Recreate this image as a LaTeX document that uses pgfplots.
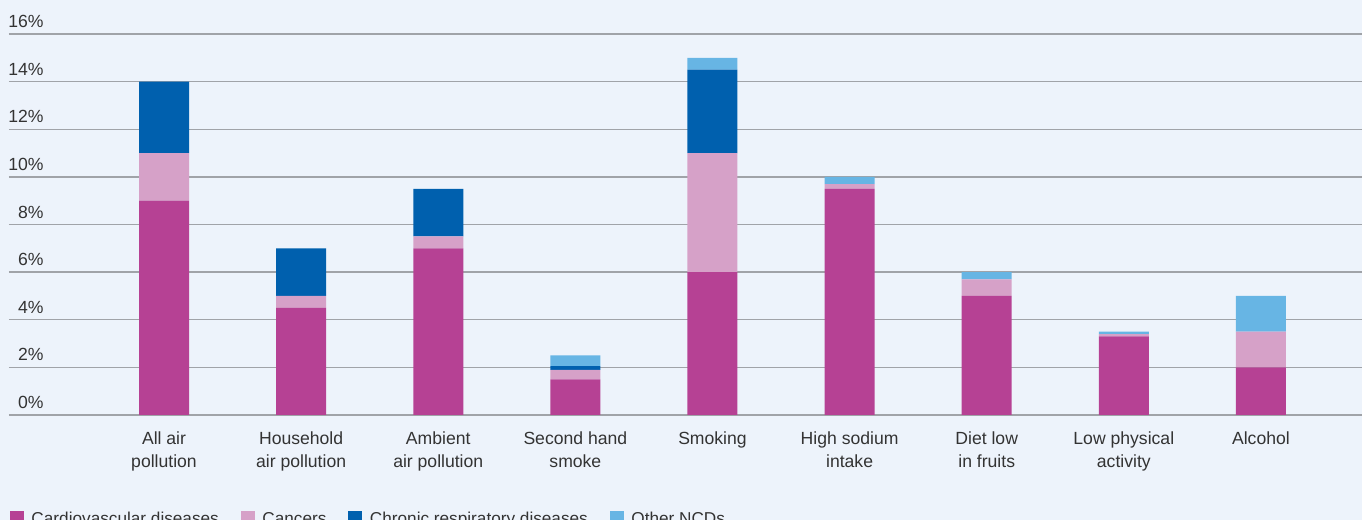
\documentclass[border=0pt]{standalone}
\usepackage{fontspec}
\setmainfont{Liberation Sans}
\usepackage{pgfplots}
\pgfplotsset{compat=1.18}
\definecolor{bg}{RGB}{237,243,251}
\definecolor{cvd}{RGB}{182,65,148}
\definecolor{can}{RGB}{214,161,200}
\definecolor{crd}{RGB}{0,96,174}
\definecolor{oth}{RGB}{103,181,228}
\definecolor{txt}{RGB}{51,51,51}
\definecolor{gridc}{RGB}{160,163,168}
\pgfplotsset{sq/.style={legend image code/.code={\fill[#1] (0pt,-3.5pt) rectangle (7pt,3.5pt);}}}
\begin{document}
\begin{tikzpicture}
\fill[bg] (-4.5pt,-52.5pt) rectangle (676.5pt,207.5pt);
\begin{axis}[
  at={(0pt,0pt)}, anchor=south west,
  width=676.5pt, height=190.5pt, scale only axis,
  ybar stacked, bar width=25pt,
  xmin=-1.1306, xmax=8.737, ymin=0, ymax=16,
  axis line style={draw=none, opacity=0}, tick style={draw=none},
  ymajorgrids, grid style={gridc, line width=0.65pt},
  ytick={0,2,...,16},
  yticklabels={0\%,2\%,4\%,6\%,8\%,10\%,12\%,14\%,16\%},
  yticklabel style={anchor=base east, inner sep=0pt, xshift=17.5pt, yshift=3.25pt, font=\fontsize{8.8}{10}\selectfont, text=txt},
  xtick={0,...,8},
  xticklabels={{All air\\pollution},{Household\\air pollution},{Ambient\\air pollution},{Second hand\\smoke},{Smoking},{High sodium\\intake},{Diet low\\in fruits},{Low physical\\activity},{Alcohol}},
  xticklabel style={align=center, anchor=north, inner sep=0pt, yshift=-8pt, font=\fontsize{8.8}{11.67}\selectfont, text=txt},
  legend style={at={(axis description cs:0,0)}, anchor=west, xshift=0.5pt, yshift=-51.5pt,
    draw=none, fill=none, inner sep=0pt, outer sep=0pt, legend columns=-1,
    font=\fontsize{8.6}{10}\selectfont, text=txt,
    /tikz/every even column/.append style={column sep=11pt},
    /tikz/every odd column/.append style={column sep=3.75pt},
    nodes={inner sep=0pt, text height=6.3pt, text depth=0pt}},
]
\addplot[fill=cvd, draw=none, sq=cvd] coordinates {(0,9) (1,4.5) (2,7) (3,1.5) (4,6) (5,9.5) (6,5) (7,3.3) (8,2)};
\addplot[fill=can, draw=none, sq=can] coordinates {(0,2) (1,0.5) (2,0.5) (3,0.4) (4,5) (5,0.2) (6,0.7) (7,0.1) (8,1.5)};
\addplot[fill=crd, draw=none, sq=crd] coordinates {(0,3) (1,2) (2,2) (3,0.15) (4,3.5) (5,0) (6,0) (7,0) (8,0)};
\addplot[fill=oth, draw=none, sq=oth] coordinates {(0,0) (1,0) (2,0) (3,0.45) (4,0.5) (5,0.3) (6,0.3) (7,0.1) (8,1.5)};
\legend{Cardiovascular diseases, Cancers, Chronic respiratory diseases, Other NCDs}
\end{axis}
\pgfresetboundingbox
\path[use as bounding box] (-4.5pt,-52.5pt) rectangle (676.5pt,207.5pt);
\end{tikzpicture}
\end{document}
